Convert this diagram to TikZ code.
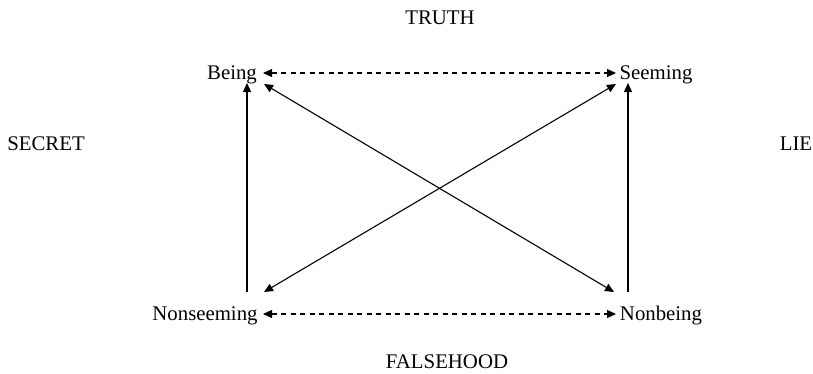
\documentclass[tikz,border=0pt]{standalone}
\usepackage{fontspec}
\setmainfont{Liberation Serif}
\usetikzlibrary{arrows.meta}
\begin{document}
\begin{tikzpicture}[x=1pt,y=1pt,
  lbl/.style={font=\fontsize{20.8}{25}\selectfont, inner sep=0pt},
  conn/.style={line width=1.1pt, {Triangle[length=9pt,width=8pt]}-{Triangle[length=9pt,width=8pt]}},
  oneway/.style={line width=1.2pt, -{Triangle[length=9pt,width=8pt]}},
  dashconn/.style={conn, dash pattern=on 5pt off 4.5pt}]
\useasboundingbox (0,0) rectangle (813,373);
\node[lbl] (truth) at (440,355) {TRUTH};
\node[lbl] (false) at (447,11) {FALSEHOOD};
\node[lbl] (secret) at (46,229) {SECRET};
\node[lbl] (lie) at (796,229) {LIE};
\node[lbl] (being) at (232,298) {Being};
\node[lbl] (seeming) at (656,298) {Seeming};
\node[lbl] (nonseeming) at (205,57) {Nonseeming};
\node[lbl] (nonbeing) at (661,57) {Nonbeing};
% arrow end points
\coordinate (bA) at (263,300);
\coordinate (sA) at (616,300);
\coordinate (nsA) at (263,59);
\coordinate (nbA) at (616,59);
\coordinate (lvTop) at (247,290);
\coordinate (lvBot) at (247,81);
\coordinate (rvTop) at (628,290);
\coordinate (rvBot) at (628,81);
\coordinate (d1a) at (264,289);
\coordinate (d1b) at (614,81);
\coordinate (d2a) at (264,81);
\coordinate (d2b) at (616,289);
\draw[dashconn] (bA) -- (sA);
\draw[dashconn] (nsA) -- (nbA);
\draw[oneway] (lvBot) -- (lvTop);
\draw[oneway] (rvBot) -- (rvTop);
\draw[conn] (d1a) -- (d1b);
\draw[conn] (d2a) -- (d2b);
\end{tikzpicture}
\end{document}
